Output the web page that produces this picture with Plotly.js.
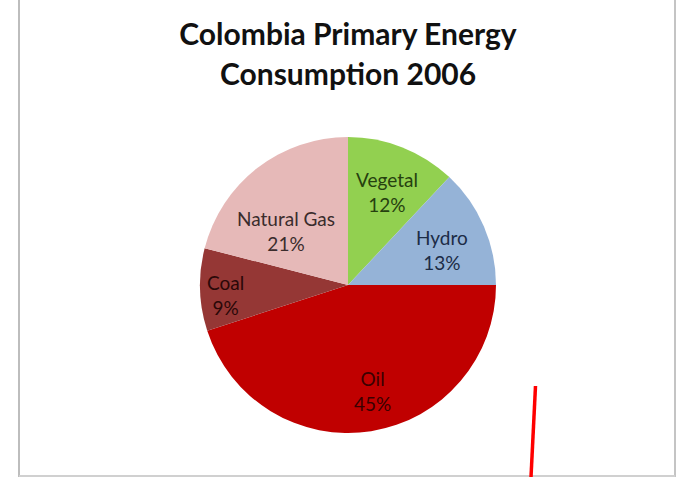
<!DOCTYPE html>
<html><head><meta charset="utf-8">
<script src="https://cdn.plot.ly/plotly-3.0.1.min.js"></script>
<style>html,body{margin:0;padding:0;background:#fff}#c{width:677px;height:477px}</style>
</head><body><div id="c"></div>
<script>
const categories = ["Vegetal", "Hydro", "Oil", "Coal", "Natural Gas"];
const shares = [12, 13, 45, 9, 21];
const sliceColors = ["#92d050", "#95b3d7", "#c00000", "#953735", "#e6b9b8"];
const labelColors = ["#26400f", "#1c2c46", "#3a0000", "#2a0808", "#3a2c2c"];
// label placement (fraction of radius, angle nudge in degrees), like Excel's best fit
const labelRadius = [0.68, 0.68, 0.735, 0.83, 0.555];
const labelAngleShift = [1.5, 3, -4, -3, -11];

const W = 677, H = 477;
const dom = {x: [200/W, 496/W], y: [44/H, 340/H]};
const cxPx = (dom.x[0] + dom.x[1]) / 2 * W;
const cyPx = H - (dom.y[0] + dom.y[1]) / 2 * H;
const rPx = (dom.x[1] - dom.x[0]) * W / 2;

const trace = {
  type: "pie",
  labels: categories,
  values: shares,
  sort: false,
  direction: "clockwise",
  rotation: 0,
  marker: {colors: sliceColors, line: {width: 0}},
  textinfo: "none",
  hoverinfo: "none",
  showlegend: false,
  domain: dom
};

const total = shares.reduce((a, b) => a + b, 0);
let cum = 0;
const labelAnn = categories.map((c, i) => {
  const mid = ((cum + shares[i] / 2) / total * 360 + labelAngleShift[i]) * Math.PI / 180;
  cum += shares[i];
  const px = cxPx + labelRadius[i] * rPx * Math.sin(mid);
  const py = cyPx - labelRadius[i] * rPx * Math.cos(mid);
  return {
    xref: "paper", yref: "paper", x: px / W, y: 1 - py / H,
    xanchor: "center", yanchor: "middle", showarrow: false,
    text: c + "<br>" + shares[i] + "%",
    font: {family: "Lato, 'Open Sans', sans-serif", size: 19, color: labelColors[i]}
  };
});

const titleFont = {family: "Lato, 'Open Sans', sans-serif", size: 30, color: "#111111"};
const layout = {
  width: W, height: H,
  margin: {l: 0, r: 0, t: 0, b: 0},
  paper_bgcolor: "#ffffff",
  showlegend: false,
  title: {
    text: "<b>Colombia Primary Energy</b>",
    font: titleFont,
    x: 0.514, xanchor: "center", y: 1 - 34/H, yanchor: "middle"
  },
  annotations: [
    {xref: "paper", yref: "paper", x: 0.514, y: 1 - 73/H, xanchor: "center", yanchor: "middle",
     showarrow: false, text: "<b>Consumption 2006</b>", font: titleFont}
  ].concat(labelAnn),
  shapes: [
    {type: "line", xref: "paper", yref: "paper", x0: 19/W, x1: 19/W, y0: 0, y1: 1, line: {color: "#bdbdbd", width: 2}},
    {type: "line", xref: "paper", yref: "paper", x0: 675/W, x1: 675/W, y0: 0, y1: 1, line: {color: "#c4c4c4", width: 2}},
    {type: "line", xref: "paper", yref: "paper", x0: 19/W, x1: 675/W, y0: 1/H, y1: 1/H, line: {color: "#d0d0d0", width: 2}},
    {type: "line", xref: "paper", yref: "paper", x0: 535.5/W, x1: 531/W, y0: (H-386)/H, y1: 0, line: {color: "#ff0000", width: 3.5}}
  ]
};

Plotly.newPlot("c", [trace], layout, {displayModeBar: false, staticPlot: true});
</script></body></html>
